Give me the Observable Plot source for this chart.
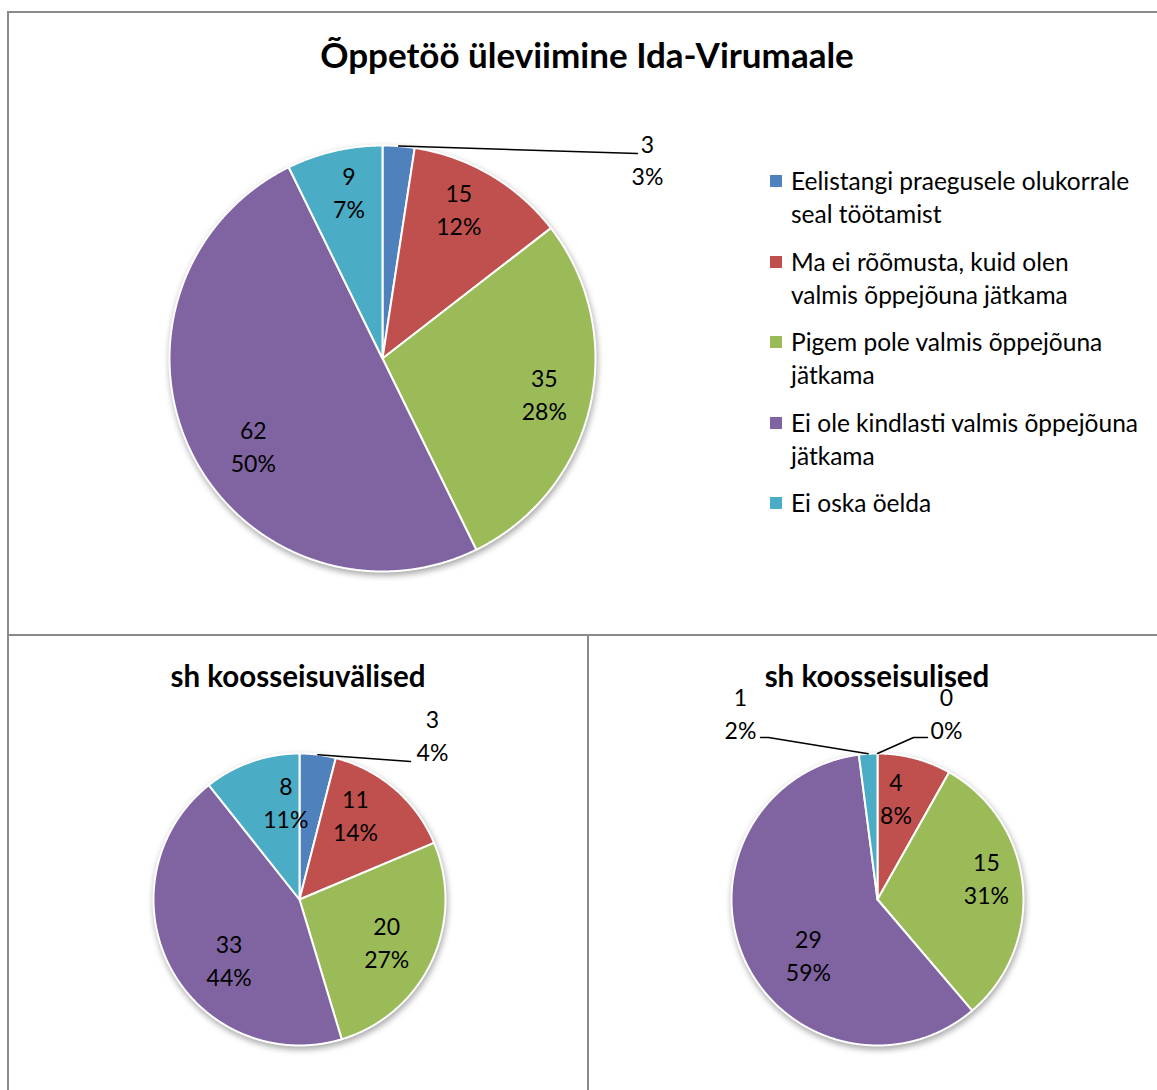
<!DOCTYPE html>
<html><head><meta charset="utf-8">
<script src="https://cdn.jsdelivr.net/npm/d3@7"></script>
<script src="https://cdn.jsdelivr.net/npm/@observablehq/plot@0.6"></script>
<style>
body{margin:0;background:#fff;overflow:hidden;font-family:Lato,"Open Sans",sans-serif;}
#page{position:relative;width:1157px;height:1090px;overflow:hidden;background:#fff;}
.frame{position:absolute;box-sizing:border-box;border:2px solid #8a8a8a;}
.abs{position:absolute;}
.title{position:absolute;font-weight:bold;color:#000;white-space:nowrap;transform:translateX(-50%);}
.legend{position:absolute;left:770px;top:164px;font-size:24.5px;line-height:33px;color:#000;white-space:nowrap;}
.legend .item{display:flex;align-items:flex-start;margin-bottom:14.5px;}
.legend .sw{width:12px;height:12px;margin-top:11px;margin-right:9px;flex:none;}
</style></head><body><div id="page"></div>
<script>
// ---- data ----
const categories = [
  "Eelistangi praegusele olukorrale seal töötamist",
  "Ma ei rõõmusta, kuid olen valmis õppejõuna jätkama",
  "Pigem pole valmis õppejõuna jätkama",
  "Ei ole kindlasti valmis õppejõuna jätkama",
  "Ei oska öelda"
];
const colors = ["#4F81BD", "#C0504D", "#9BBB59", "#8064A2", "#4BACC6"];
const mainTitle = "Õppetöö üleviimine Ida-Virumaale";
const leftTitle = "sh koosseisuvälised";
const rightTitle = "sh koosseisulised";
const mainValues = [3, 15, 35, 62, 9];
const mainPct = ["3%", "12%", "28%", "50%", "7%"];
const leftValues = [3, 11, 20, 33, 8];
const leftPct = ["4%", "14%", "27%", "44%", "11%"];
const rightValues = [0, 4, 15, 29, 1];
const rightPct = ["0%", "8%", "31%", "59%", "2%"];
// legend line breaks (words on first line)
const legendBreak = [3, 5, 4, 5, 0];

// ---- layout ----
const page = document.getElementById("page");
function addDiv(cls, style, html) {
  const d = document.createElement("div");
  d.className = cls;
  Object.assign(d.style, style);
  if (html != null) d.innerHTML = html;
  page.appendChild(d);
  return d;
}
addDiv("frame", {left: "7px", top: "11px", width: "1170px", height: "625px"});
addDiv("frame", {left: "7px", top: "634px", width: "582px", height: "500px"});
addDiv("frame", {left: "587px", top: "634px", width: "600px", height: "500px"});

addDiv("title", {left: "587px", top: "34px", fontSize: "35px", lineHeight: "40px"}, mainTitle);
addDiv("title", {left: "298px", top: "659px", fontSize: "29.5px", lineHeight: "34px"}, leftTitle);
addDiv("title", {left: "877px", top: "659px", fontSize: "29.5px", lineHeight: "34px"}, rightTitle);

// legend
const leg = addDiv("legend", {});
categories.forEach((c, i) => {
  const words = c.split(" ");
  const txt = legendBreak[i] > 0 && legendBreak[i] < words.length
    ? words.slice(0, legendBreak[i]).join(" ") + "<br>" + words.slice(legendBreak[i]).join(" ")
    : c;
  const it = document.createElement("div");
  it.className = "item";
  it.innerHTML = `<div class="sw" style="background:${colors[i]}"></div><div>${txt}</div>`;
  leg.appendChild(it);
});

function makePie(cfg) {
  const {values, pct, cx, cy, r, box, factor, nudge, outside} = cfg;
  const total = d3.sum(values);
  const slices = [], labels = [], leaders = [];
  let acc = 0;
  values.forEach((v, i) => {
    const a0 = acc / total * 2 * Math.PI;
    acc += v;
    const a1 = acc / total * 2 * Math.PI;
    const mid = (a0 + a1) / 2;
    if (v > 0) {
      slices.push({cat: categories[i], x: 0, y: 0});
      const n = Math.max(2, Math.ceil((a1 - a0) / 0.005));
      for (let k = 0; k <= n; k++) {
        const a = a0 + (a1 - a0) * k / n;
        slices.push({cat: categories[i], x: r * Math.sin(a), y: -r * Math.cos(a)});
      }
      slices.push({cat: categories[i], x: 0, y: 0});
    }
    const text = `${v}\n${pct[i]}`;
    if (outside[i]) {
      const o = outside[i];
      labels.push({x: o.label[0], y: o.label[1], text});
      leaders.push({id: i, x: r * Math.sin(mid), y: -r * Math.cos(mid)});
      o.line.forEach(p => leaders.push({id: i, x: p[0], y: p[1]}));
    } else {
      const d = r * factor;
      const nd = nudge[i] || [0, 0];
      labels.push({x: d * Math.sin(mid) + nd[0], y: -d * Math.cos(mid) + nd[1], text});
    }
  });
  const [L, T, W, H] = box;
  const svg = Plot.plot({
    width: W, height: H,
    margin: 0,
    x: {domain: [L - cx, L + W - cx], range: [0, W], axis: null},
    y: {domain: [T - cy, T + H - cy], range: [0, H], axis: null},
    color: {domain: categories, range: colors},
    style: {fontFamily: "Lato, 'Open Sans', sans-serif", background: "transparent", overflow: "visible"},
    marks: [
      Plot.line(slices, {x: "x", y: "y", z: "cat", fill: "cat", stroke: "white", strokeWidth: 2, strokeLinejoin: "round", curve: "linear"}),
      Plot.line(leaders, {x: "x", y: "y", z: "id", stroke: "black", strokeWidth: 1.5, curve: "linear"}),
      Plot.text(labels, {x: "x", y: "y", text: "text", fontSize: 23, lineHeight: 1.43, fill: "black", textAnchor: "middle", dy: -3})
    ]
  });
  const g = svg.querySelector('g[aria-label="line"]');
  if (g) g.style.filter = "drop-shadow(1px 3px 3px rgba(0,0,0,0.35))";
  const holder = addDiv("abs pie", {left: L + "px", top: T + "px", width: W + "px", height: H + "px"});
  holder.appendChild(svg);
}

makePie({
  values: mainValues, pct: mainPct, cx: 382, cy: 358, r: 213,
  box: [9, 13, 740, 620], factor: 0.78,
  nudge: [null, [-8, -4], [0, 0], [20, 16], [4, -3]],
  outside: [{label: [265, -197], line: [[255, -205]]}, null, null, null, null]
});
makePie({
  values: leftValues, pct: leftPct, cx: 299, cy: 899, r: 146,
  box: [9, 636, 578, 454], factor: 0.66,
  nudge: [null, [-7, -9.5], [0, 3.5], [15, 18], [18, -4.5]],
  outside: [{label: [133, -162.5], line: [[111, -138]]}, null, null, null, null]
});
makePie({
  values: rightValues, pct: rightPct, cx: 877, cy: 899, r: 146,
  box: [589, 636, 568, 454], factor: 0.66,
  nudge: [null, [-6, -6], [13, -10], [19, 18.5], null],
  outside: [{label: [69, -184.5], line: [[36, -162], [50, -162]]}, null, null, null,
            {label: [-137, -184.5], line: [[-109, -162], [-117, -162]]}]
});
</script>
</body></html>
